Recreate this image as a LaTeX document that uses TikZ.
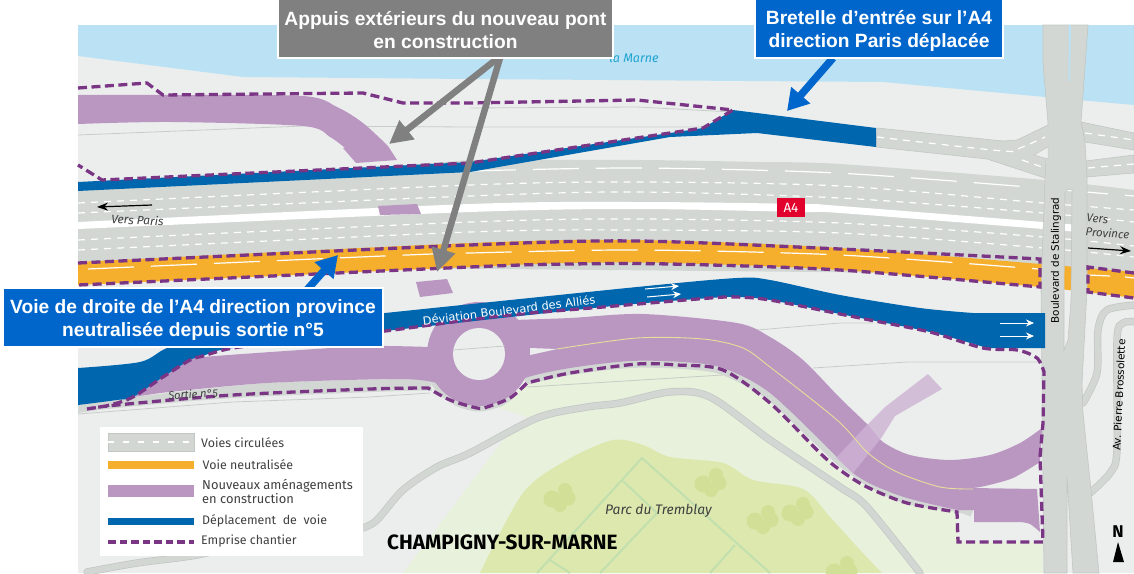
\documentclass[tikz,border=0pt]{standalone}
\usepackage{fontspec}
\setmainfont{Fira Sans}
\newfontfamily\boxfont{Liberation Sans}
\newfontfamily\roadfont{DejaVu Sans}
\usetikzlibrary{arrows.meta}
\definecolor{mapbg}{HTML}{ECEEEE}
\definecolor{water}{HTML}{BAE2F4}
\definecolor{roadg}{HTML}{D2D7D4}
\definecolor{roade}{HTML}{C2C7C4}
\definecolor{orng}{HTML}{F6AE2D}
\definecolor{purp}{HTML}{BA97C1}
\definecolor{purl}{HTML}{CDB2D3}
\definecolor{depl}{HTML}{0066AE}
\definecolor{empr}{HTML}{7A3585}
\definecolor{grn}{HTML}{E8F1DB}
\definecolor{grnb}{HTML}{DDE8AE}
\definecolor{grnl}{HTML}{C2DFAE}
\definecolor{blob}{HTML}{D2DF96}
\definecolor{callblue}{HTML}{0066CC}
\definecolor{callgray}{HTML}{808080}
\definecolor{thincol}{HTML}{C8CCC8}
\definecolor{txt}{HTML}{404040}
\definecolor{yline}{HTML}{E6DE9A}
\definecolor{marnec}{HTML}{1FA3D1}
\definecolor{signr}{HTML}{E2002D}
\tikzset{
  emprise/.style={draw=empr,line width=3.3pt,dash pattern=on 9pt off 4.5pt},
  shortd/.style={draw=white,line width=1.2pt,dash pattern=on 7pt off 6pt},
  longd/.style={draw=white,line width=1.2pt,dash pattern=on 46pt off 17pt},
  thinl/.style={draw=thincol,line width=.8pt},
  sideroad/.style={draw=roadg,line width=6pt,line cap=round},
  sidecase/.style={draw=roade,line width=7.4pt,line cap=round},
  parkl/.style={draw=grnl,line width=2pt},
  callout/.style={draw=white,line width=1.2pt,text=white,align=center,font=\boxfont\bfseries\fontsize{19.2}{23}\selectfont,inner sep=0pt},
  callarrowgray/.style={draw=callgray,line width=6.5pt,-{Triangle[length=23pt,width=23pt]}},
  callarrowblue/.style={draw=callblue,line width=7.5pt,-{Triangle[length=21pt,width=24pt]}},
  whitearrow/.style={draw=white,line width=1pt,-{Stealth[length=8pt,width=7pt]}},
  blackarrow/.style={draw=black,line width=1.2pt,-{Stealth[length=11pt,width=8pt]}},
  legendtxt/.style={anchor=west,text=txt,inner sep=0pt,align=left,font=\fontsize{12.4}{13.5}\selectfont},
  maplabel/.style={text=txt,inner sep=0pt,font=\itshape\fontsize{12}{14}\selectfont},
}
\begin{document}
\begin{tikzpicture}[x=1pt,y=-1pt]
\useasboundingbox (0,0) rectangle (1134,573);
\fill[white] (0,0) rectangle (1134,573);
\fill[mapbg] (78,25) rectangle (1134,573);
% water
\fill[water] (78,25) -- (1134,25) -- (1134,105) -- (1045,97) -- (883,82) -- (470,79) -- (243,77) -- (78,56) -- cycle;
% park
\fill[grn] (497,407) -- (527,417) -- (503,440) -- (403,573) -- (1043,573) -- (1043,542) -- (958,542) -- (957,512) -- (907,503) -- (867,487) -- (840,470) -- (770,403) -- (723,370) -- (677,365) -- (637,364) -- (570,373) -- (527,383) -- cycle;
\fill[grnb] plot[smooth] coordinates {(480,573)(523,493)(567,460)(613,440)(643,445)(670,457)(723,463)(753,480)(803,489)(830,517)(860,550)(882,573)} -- cycle;
\draw[parkl] (537,573) -- (642,458) -- (770,573);
\draw[parkl] (623,481) -- (657,513) -- (600,573);
\draw[parkl] (735,545) -- (710,573);
\draw[parkl] (550,560) -- (570,573);
\foreach \cx/\cy in {560/499,711/484,763/521,798/513,842/572}{
  \fill[blob] (\cx-8,\cy+0) circle (8.5pt) (\cx+8,\cy-1) circle (7.5pt) (\cx+5,\cy-9) circle (7pt) (\cx,\cy+6) circle (7pt);
}
% thin lines
\draw[thinl] (78,135) -- (303,126) -- (470,127) -- (703,127);
\draw[thinl] (470,108) -- (637,107) -- (733,112);
\draw[thinl] (370,397) -- (430,393);
\draw[thinl] (527,387) -- (723,375);
\draw[thinl] (757,330) -- (840,323) -- (873,323);
\draw[thinl] (813,368) -- (907,362) -- (1040,362);
% side roads
\draw[sidecase] plot[smooth] coordinates {(363,528)(377,520)(403,490)(437,467)(470,453)(537,418)(587,407)(620,403)(670,392)(710,397)(770,440)(840,487)(867,507)(920,573)};
\draw[sideroad] plot[smooth] coordinates {(363,528)(377,520)(403,490)(437,467)(470,453)(537,418)(587,407)(620,403)(670,392)(710,397)(770,440)(840,487)(867,507)(920,573)};
\draw[sidecase] plot[smooth] coordinates {(87,572)(137,563)(197,555)(260,540)};
\draw[sideroad] plot[smooth] coordinates {(87,572)(137,563)(197,555)(260,540)};
\draw[sidecase] plot[smooth] coordinates {(1083,403)(1097,373)(1098,330)(1107,310)(1136,305)};
\draw[sideroad] plot[smooth] coordinates {(1083,403)(1097,373)(1098,330)(1107,310)(1136,305)};
\draw[sidecase] plot[smooth] coordinates {(1090,493)(1110,473)(1117,450)(1117,340)(1123,323)(1136,322)};
\draw[sideroad] plot[smooth] coordinates {(1090,493)(1110,473)(1117,450)(1117,340)(1123,323)(1136,322)};
% motorway
\fill[roadg] (78,191) -- plot[smooth] coordinates {(470,160)(640,160)(760,162)(840,164)(1045,180)(1134,190)} -- (1134,275) -- (78,265) -- cycle;
\fill[white] plot[smooth] coordinates {(78,222)(470,204)(637,202)(803,204)(840,206)(1043,222)(1088,226)} -- plot[smooth] coordinates {(1088,233)(1043,229)(840,213)(803,212)(637,209)(470,212)(78,229)} -- cycle;
\fill[orng] plot[smooth] coordinates {(78,262)(470,243)(637,240)(840,248)(1134,272)} -- plot[smooth] coordinates {(1134,298)(1040,287)(840,270)(670,263)(570,263)(470,267)(78,285)} -- cycle;
% motorway lane marks
\draw[longd] plot[smooth] coordinates {(470,171)(637,168)(837,173)(1028,187)};
\draw[longd] (1062,190) -- (1134,196);
\draw[shortd] plot[smooth] coordinates {(78,203)(470,185)(637,182)(840,186)(1043,203)(1134,210)};
\draw[shortd] plot[smooth] coordinates {(78,213)(470,196)(637,192)(840,198)(1043,213)(1134,222)};
\draw[shortd] plot[smooth] coordinates {(78,240)(470,222)(637,219)(840,223)(1043,237)(1134,246)};
\draw[shortd] plot[smooth] coordinates {(78,250)(470,232)(637,230)(840,233)(1043,248)(1134,257)};
\draw[longd] plot[smooth] coordinates {(88,269)(383,256)(470,253)(637,250)(840,255)(1038,269)};
\draw[draw=white,line width=1.2pt] (1088,275) -- (1110,276) (1125,277) -- (1134,278);
% ramp and crossing
\fill[roadg,draw=roade,line width=.6pt] (877,128) -- (1003,141) -- (1017,140) -- (1048,125) -- (1055,125) -- (1055,178) -- (1045,178) -- (987,159) -- (876,147) -- cycle;
\fill[roadg,draw=roade,line width=.6pt] (1081,122) -- (1134,133) -- (1134,150) -- (1085,142) -- cycle;
\fill[roadg,draw=roade,line width=.6pt] (1085,161) -- (1134,155) -- (1134,173) -- (1087,177) -- cycle;
\fill[roadg,draw=roade,line width=.6pt,even odd rule] (1043,25) -- (1043,63) -- (1048,123) -- (1045,178) -- (1041,290) -- (1044,573) -- (1067,573) -- (1067,477) -- (1073,573) -- (1099,573) -- (1091,490) -- (1083,413) -- (1082,383) -- (1087,290) -- (1087,178) -- (1085,142) -- (1081,122) -- (1088,25) -- cycle
  (1068,189) -- (1065,193) -- (1064,290) -- (1064,350) -- (1068,340) -- (1071,300) -- (1072,190) -- cycle;
\fill[roadg] (1046,126) rectangle (1060,177);
\fill[water] (1068.5,25) -- (1071,25) -- (1070,81) -- (1068.5,81) -- cycle;
\fill[mapbg,draw=roade,line width=.5pt] (1034,155) -- (1048,147) -- (1048,159) -- cycle;
\draw[shortd] plot[smooth] coordinates {(877,137)(1003,151)(1020,148)(1045,137)};
\draw[shortd] (1022,160) -- (1045,168);
\draw[shortd] (1085,133) -- (1134,140);
\draw[shortd] (1088,168) -- (1134,164);
% blue ramp
\fill[depl] (78,182) -- (470,162) -- (670,133) -- (703,128) -- (733,110) -- (876,128) -- (876,147) -- (757,133) -- (670,137) -- (470,172) -- (78,191) -- cycle;
% purple works
\fill[purp] plot[smooth] coordinates {(78,95)(170,95)(303,96)(337,107)(363,123)(388,146)} -- (397,160) -- (356,163) -- (343,148) -- plot[smooth] coordinates {(345,148)(330,137)(303,126)(170,122)(78,124)} -- cycle;
\fill[purp] (378,206) -- (417,204) -- (421,214) -- (380,215) -- cycle;
\fill[purp] (416,282) -- (447,279) -- (453,293) -- (420,297) -- cycle;
% grey strips along the works
\fill[roadg] plot[smooth] coordinates {(78,405)(133,397)(267,383)(400,379)(430,380)} -- plot[smooth] coordinates {(432,391)(400,391)(233,398)(117,408)(78,413)} -- cycle;
\draw[thinl] (78,414) -- (233,402) -- (370,397);
\draw[draw=roadg,line width=7pt] plot[smooth] coordinates {(428,372)(440,390)(458,403)(479,408)(500,403)(513,394)};
\draw[draw=roadg,line width=8pt] plot[smooth] coordinates {(972,513)(957,508)(907,500)(873,485)(853,471)(837,459)(770,397)(723,371)(683,365)(630,364)(570,371)(525,381)};
\fill[purp] (479,354) circle (52pt);
\fill[purp] plot[smooth] coordinates {(133,397)(163,377)(190,360)(203,357)(300,350)(370,346)(430,347)} -- (440,383) -- plot[smooth] coordinates {(437,383)(400,379)(267,383)(160,393)} -- cycle;
\fill[purp] (480,330) -- plot[smooth] coordinates {(513,320)(570,318)(643,314)(737,323)(770,337)(803,360)(840,398)(868,425)(883,442)(910,455)(950,460)(990,455)(1020,443)(1042,428)} -- (1040,462) -- plot[smooth] coordinates {(1040,462)(1013,478)(985,486)(973,488)} -- (1037,489) -- (1040,532) -- plot[smooth] coordinates {(1040,532)(1030,524)(1020,522)} -- (974,522) -- (974,510) -- plot[smooth] coordinates {(957,510)(907,498)(873,485)(853,473)(837,457)(770,393)(723,368)(683,362)(630,361)(570,368)(525,378)(513,390)} -- (480,380) -- cycle;
\fill[purl,opacity=.8] (928,374) -- (942,389) -- (895,416) -- (882,437) -- (853,473) -- (836,458) -- (867,425) -- (885,407) -- cycle;
\fill[mapbg] (530,348) -- (557,349) -- (530,355) -- cycle;
\fill[mapbg] (479,354) circle (26pt);
\draw[thinl] (453,350) -- (505,346);
\draw[draw=yline,line width=.9pt] plot[smooth] coordinates {(557,349)(637,338)(703,339)(743,348)(770,367)(837,420)(868,453)(897,472)(940,487)(973,489)};
% blue deviation
\fill[depl] plot[smooth] coordinates {(78,368)(140,362)(167,348)(210,335)(385,313)} -- plot[smooth] coordinates {(385,313)(637,287)(737,278)(770,280)(840,295)(920,308)(973,313)} -- (1045,313) -- (1045,348) -- (987,348) -- plot[smooth] coordinates {(987,348)(930,332)(840,314)(770,300)(737,297)(710,298)(603,307)(385,331)} -- plot[smooth] coordinates {(385,331)(233,348)(203,356)(190,360)(163,377)(133,397)(117,400)(78,405)} -- cycle;
\draw[whitearrow] (645,289) -- (679,286);
\draw[whitearrow] (647,297) -- (681,294);
\draw[whitearrow] (1000,323) -- (1034,323);
\draw[whitearrow] (1000,336) -- (1034,336);
% emprise
\draw[emprise] (78,88) -- (147,83) -- (163,95) -- (363,93) -- (403,103) -- (470,103) -- (637,100) -- (733,110) -- (703,128) -- (670,133) -- (470,163) -- (102,180) -- (78,165);
\draw[emprise] plot[smooth] coordinates {(78,263)(470,245)(637,241)(840,249)(1040,259)} -- (1040,287) -- plot[smooth] coordinates {(1040,287)(840,270)(670,264)(570,264)(470,267)(78,285)};
\draw[emprise] plot[smooth] coordinates {(1134,273)(1088,267)} -- (1088,292) -- (1134,298);
\draw[emprise] plot[smooth] coordinates {(87,409)(110,405)(133,397)(163,377)(190,360)(203,356)(233,348)(300,340)(385,331)(500,316)(603,307)(710,298)(737,297)(770,300)(840,314)(870,320)(930,332)(983,348)(1017,350)(1037,358)(1044,372)} -- (1043,423) -- (1040,457) -- (1043,542) -- (958,542) -- (957,512) -- plot[smooth] coordinates {(957,512)(907,503)(867,487)(840,470)(820,453)(770,403)(723,370)(677,365)(637,364)(570,373)(527,383)} -- plot[smooth] coordinates {(527,383)(510,398)(487,407)(477,408)(450,400)(428,388)} -- plot[smooth] coordinates {(428,388)(370,389)(233,395)(117,405)(87,409)};
% map labels
\node[inner sep=0pt,text=marnec,font=\itshape\fontsize{12.5}{14}\selectfont] (marne) at (634,57.5) {la Marne};
\node[maplabel,font=\itshape\fontsize{12}{13}\selectfont,rotate=-3] (versparis) at (137.5,220) {Vers Paris};
\node[maplabel,font=\itshape\fontsize{11.5}{14}\selectfont,rotate=-4,align=left,anchor=west] (versprov) at (1086,225) {Vers\\Province};
\coordinate (parisa) at (152,205);
\coordinate (parisb) at (97,207);
\coordinate (prova) at (1088,248);
\coordinate (provb) at (1131,251);
\draw[blackarrow] (parisa) -- (parisb);
\draw[blackarrow] (prova) -- (provb);
\node[fill=signr,minimum width=28pt,minimum height=19pt,inner sep=0pt,text=white,font=\fontsize{13.5}{15}\selectfont] (asign) at (791,207.5) {A4};
\node[inner sep=0pt,text=white,rotate=7,font=\roadfont\fontsize{11.4}{13}\selectfont] (devlabel) at (509,310) {Déviation Boulevard des Alliés};
\node[inner sep=0pt,text=black,rotate=90,font=\roadfont\fontsize{10.4}{12}\selectfont] (stal) at (1056,260.5) {Boulevard de Stalingrad};
\node[inner sep=0pt,text=black,rotate=87.5,font=\roadfont\fontsize{10.4}{12}\selectfont] (bross) at (1119,395) {Av. Pierre Brossolette};
\node[maplabel,font=\itshape\fontsize{11}{13}\selectfont,rotate=3] (sortie) at (193,394) {Sortie n°5};
\node[maplabel,font=\itshape\fontsize{13.8}{15}\selectfont] (parc) at (658.5,511) {Parc du Tremblay};
\node[inner sep=0pt,anchor=west,text=black,font=\bfseries\fontsize{20.7}{22}\selectfont] (champ) at (387,542) {CHAMPIGNY-SUR-MARNE};
\node[inner sep=0pt,text=black,font=\bfseries\fontsize{17}{19}\selectfont] (north) at (1118,532) {N};
\fill[black] (1118,542) -- (1124,562) -- (1113,562) -- cycle;
% legend
\fill[white] (100,427) rectangle (363,556);
\fill[roadg,draw=roade,line width=.6pt] (108,433) rectangle (194,451);
\draw[draw=white,line width=1.2pt,dash pattern=on 6pt off 9pt] (108,442) -- (194,442);
\fill[orng] (108,461) rectangle (194,469);
\fill[purp] (108,485) rectangle (194,497);
\fill[depl] (108,518) rectangle (194,525);
\draw[emprise,dash pattern=on 7.5pt off 4pt] (108,542) -- (194,542);
\node[legendtxt] (l1) at (201,443) {Voies circulées};
\node[legendtxt] (l2) at (202.5,465) {Voie neutralisée};
\node[legendtxt,font=\fontsize{12.9}{14}\selectfont] (l3) at (202,491.5) {Nouveaux aménagements\\en construction};
\node[legendtxt] (l4) at (202,521) {Déplacement\ \ de\ \ voie};
\node[legendtxt] (l5) at (201,541) {Emprise chantier};
% callouts
\coordinate (gs1) at (498,58);
\coordinate (gs2) at (500,58);
\coordinate (gt1) at (389,144);
\coordinate (gt2) at (437,272);
\draw[callarrowgray] (gs1) -- (gt1);
\draw[callarrowgray] (gs2) -- (gt2);
\coordinate (bs1) at (833,58);
\coordinate (bt1) at (787,111);
\draw[callarrowblue] (bs1) -- (bt1);
\coordinate (bs2) at (305,292);
\coordinate (bt2) at (338,255);
\draw[callarrowblue] (bs2) -- (bt2);
\node[callout,fill=callgray,minimum width=335pt,minimum height=60pt] (gbox) at (445.5,28) {\rule{0pt}{19pt}Appuis extérieurs du nouveau pont\\en construction};
\node[callout,fill=callblue,minimum width=248pt,minimum height=60pt] (bbox) at (879,28) {\rule{0pt}{19pt}Bretelle d’entrée sur l’A4\\direction Paris déplacée};
\node[callout,fill=callblue,minimum width=380pt,minimum height=59pt] (vbox) at (193,317.5) {\rule{0pt}{19pt}Voie de droite de l’A4 direction province\\neutralisée depuis sortie n°5};
\end{tikzpicture}
\end{document}
